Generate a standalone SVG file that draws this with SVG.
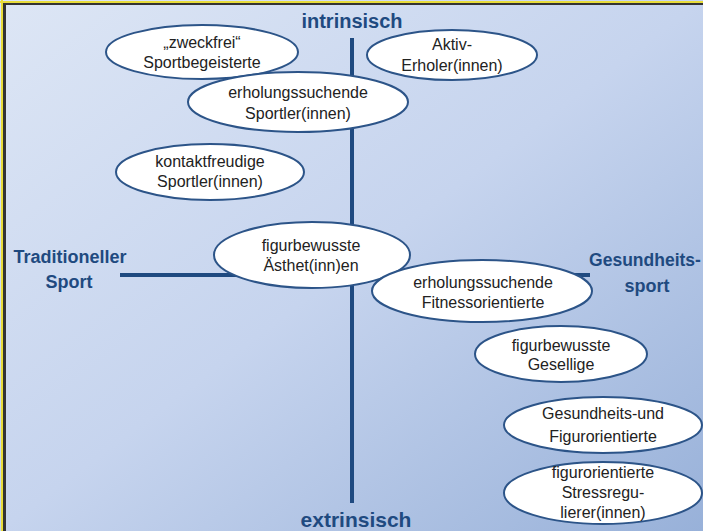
<svg xmlns="http://www.w3.org/2000/svg" width="703" height="531" viewBox="0 0 703 531">
<defs>
<linearGradient id="bg" x1="0" y1="0" x2="1" y2="1">
<stop offset="0" stop-color="#dde6f5"/>
<stop offset="0.5" stop-color="#c6d4ee"/>
<stop offset="1" stop-color="#98b1d9"/>
</linearGradient>
<style>
.ax{stroke:#1f4a80;stroke-width:4;fill:none}
.node ellipse{fill:#ffffff;stroke:#2c5488;stroke-width:2}
.node text{font-family:"Liberation Sans",Arial,sans-serif;font-size:16px;fill:#222222;text-anchor:middle}
.lab{font-family:"Liberation Sans",Arial,sans-serif;font-weight:bold;fill:#1f4a80;text-anchor:middle}
</style>
</defs>
<rect x="0" y="0" width="703" height="531" fill="url(#bg)"/>
<g id="frame">
<line x1="0" y1="2" x2="703" y2="2" stroke="#e8dc3a" stroke-width="2"/>
<line x1="3" y1="4" x2="703" y2="4" stroke="#333333" stroke-width="2"/>
<line x1="2" y1="0" x2="2" y2="531" stroke="#e8dc3a" stroke-width="2"/>
<line x1="4.5" y1="3" x2="4.5" y2="531" stroke="#333333" stroke-width="3"/>
</g>
<g id="connectors">
<line class="ax" x1="352" y1="38" x2="352" y2="503"/>
<line class="ax" x1="120" y1="275" x2="590" y2="275"/>
</g>
<g id="labels">
<text class="lab" x="352" y="28" font-size="20">intrinsisch</text>
<text class="lab" x="356" y="527" font-size="21">extrinsisch</text>
<text class="lab" x="70" y="263" font-size="18">Traditioneller</text>
<text class="lab" x="69" y="288" font-size="18">Sport</text>
<text class="lab" x="645" y="266" font-size="17.5">Gesundheits-</text>
<text class="lab" x="647" y="292" font-size="18">sport</text>
</g>
<g id="n-zweckfrei" class="node">
<ellipse cx="202" cy="52" rx="96" ry="27"/>
<text x="202" y="48">„zweckfrei“</text>
<text x="202" y="68">Sportbegeisterte</text>
</g>
<g id="n-aktiv" class="node">
<ellipse cx="452" cy="55" rx="85" ry="25"/>
<text x="452" y="50">Aktiv-</text>
<text x="452" y="71">Erholer(innen)</text>
</g>
<g id="n-erhol-sportler" class="node">
<ellipse cx="298" cy="102" rx="110" ry="30"/>
<text x="298" y="98">erholungssuchende</text>
<text x="298" y="119">Sportler(innen)</text>
</g>
<g id="n-kontakt" class="node">
<ellipse cx="210" cy="172" rx="94" ry="28"/>
<text x="210" y="167">kontaktfreudige</text>
<text x="210" y="187">Sportler(innen)</text>
</g>
<g id="n-aesthet" class="node">
<ellipse cx="312" cy="255" rx="98" ry="33"/>
<text x="311" y="251">figurbewusste</text>
<text x="311" y="271">Ästhet(inn)en</text>
</g>
<g id="n-fitness" class="node">
<ellipse cx="482" cy="291" rx="110" ry="31"/>
<text x="483" y="288">erholungssuchende</text>
<text x="483" y="308">Fitnessorientierte</text>
</g>
<g id="n-gesellige" class="node">
<ellipse cx="561" cy="354" rx="86" ry="28"/>
<text x="561" y="351">figurbewusste</text>
<text x="561" y="370">Gesellige</text>
</g>
<g id="n-gesund" class="node">
<ellipse cx="603" cy="425" rx="99" ry="28"/>
<text x="603" y="419">Gesundheits-und</text>
<text x="603" y="442">Figurorientierte</text>
</g>
<g id="n-stress" class="node">
<ellipse cx="603" cy="493" rx="99" ry="31"/>
<text x="603" y="478">figurorientierte</text>
<text x="603" y="498">Stressregu-</text>
<text x="603" y="518">lierer(innen)</text>
</g>
</svg>
